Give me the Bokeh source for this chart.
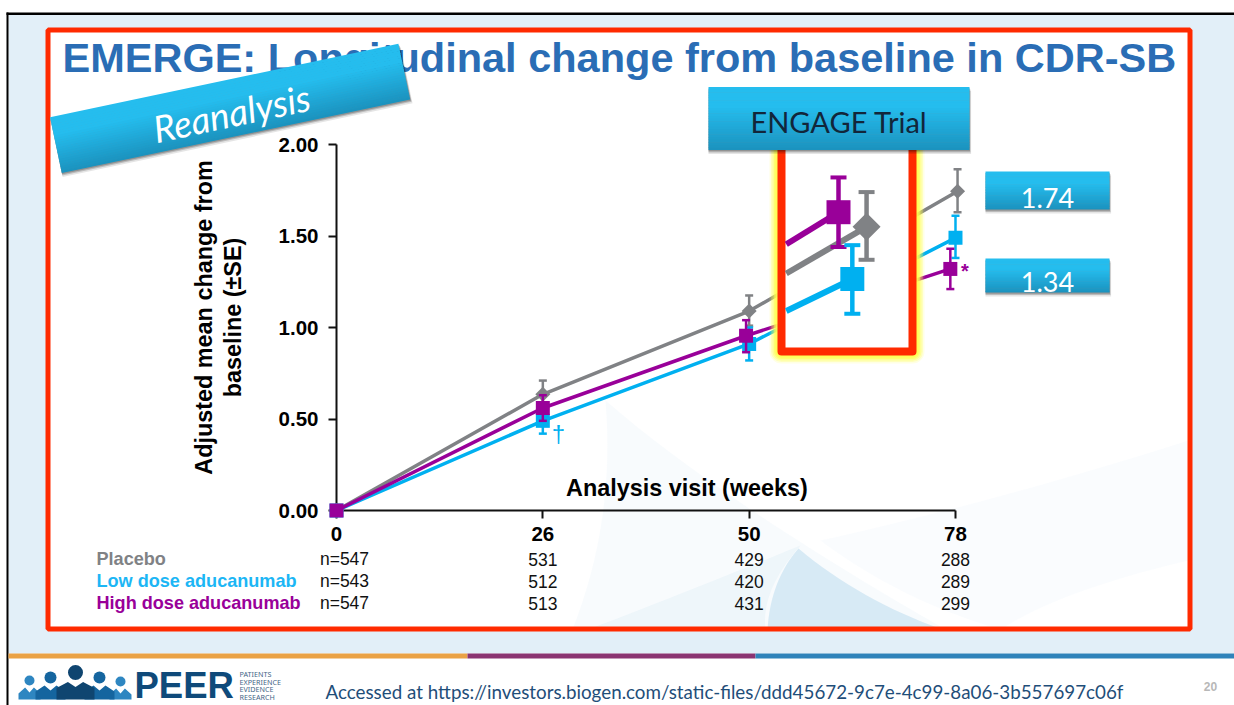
import math
from bokeh.plotting import figure
from bokeh.models import Range1d, LinearAxis, FixedTicker, NumeralTickFormatter, ColumnDataSource
from bokeh.core.properties import value
from bokeh.embed import file_html
from bokeh.resources import INLINE

# ---- data ----
week_labels = ["0", "26", "50", "78"]
visits = [0, 1, 2, 3]
y_ticks = [0, 0.5, 1.0, 1.5, 2.0]

placebo_x = [0, 1.0, 2.0, 3.01]
placebo_mean = [0, 0.635, 1.09, 1.745]
placebo_hi = [0, 0.71, 1.175, 1.865]
placebo_lo = [0, 0.56, 1.01, 1.63]

low_x = [0, 1.0, 2.0, 3.0]
low_mean = [0, 0.49, 0.91, 1.49]
low_hi = [0, 0.56, 1.0, 1.61]
low_lo = [0, 0.42, 0.82, 1.38]

high_x = [0, 1.0, 1.985, 2.975]
high_mean = [0, 0.56, 0.955, 1.32]
high_hi = [0, 0.63, 1.04, 1.43]
high_lo = [0, 0.49, 0.865, 1.21]

# ENGAGE inset (same y scale): segment start inside the box, then the point
eng_high_x = [2.18, 2.433]; eng_high_y = [1.455, 1.63]; eng_high_hi = [1.82]; eng_high_lo = [1.44]
eng_pla_x = [2.18, 2.569]; eng_pla_y = [1.295, 1.55]; eng_pla_hi = [1.74]; eng_pla_lo = [1.37]
eng_low_x = [2.18, 2.50]; eng_low_y = [1.09, 1.265]; eng_low_hi = [1.45]; eng_low_lo = [1.075]

n_placebo = ["n=547", "531", "429", "288"]
n_low = ["n=543", "512", "420", "289"]
n_high = ["n=547", "513", "431", "299"]

GRAY, BLUE, PURPLE = "#808285", "#00b0f0", "#990099"
RED = "#ff2a00"
SANS = "Liberation Sans"
HUM = "Lato"

# ---- figure: frame fills the page; axes sit inside it ----
W, H = 1234, 705
X0, XS, Y0, YS = 336.0, 206.33, 510.0, 183.0
p = figure(width=W, height=H, output_backend="svg", toolbar_location=None,
           x_range=Range1d((0 - X0) / XS, (W - X0) / XS),
           y_range=Range1d((Y0 - H) / YS, Y0 / YS),
           x_axis_location=None, y_axis_location=None,
           min_border=0, min_border_left=0, min_border_right=0, min_border_top=0, min_border_bottom=0,
           outline_line_color=None, background_fill_color="white", border_fill_color="white",
           margin=(0, 0, 0, 0))
p.grid.visible = False
p.extra_x_ranges["px"] = Range1d(0, W)
p.extra_y_ranges["px"] = Range1d(H, 0)
PX = dict(x_range_name="px", y_range_name="px")


def rect(x0, y0, x1, y1, level="image", **kw):
    p.quad(left=[x0], right=[x1], top=[y0], bottom=[y1], level=level, line_color=kw.pop("line_color", None), **kw, **PX)


def poly(xs, ys, level="image", **kw):
    p.patch(xs, ys, level=level, line_color=None, **kw, **PX)


def bez(a, c, b, n=16):
    """points of a quadratic curve a-c-b, used for the decorative background only"""
    xs, ys = [], []
    for i in range(n + 1):
        t = i / n
        xs.append((1 - t) ** 2 * a[0] + 2 * t * (1 - t) * c[0] + t * t * b[0])
        ys.append((1 - t) ** 2 * a[1] + 2 * t * (1 - t) * c[1] + t * t * b[1])
    return xs, ys


def swoosh(curves, **kw):
    xs, ys = [], []
    for a, c, b in curves:
        u, v = bez(a, c, b)
        xs += u
        ys += v
    poly(xs, ys, **kw)


def txt(x, y, s, size, color, font=SANS, style="normal", align="left", angle=0, level="image", baseline="middle"):
    p.text([x], [y], text=[s], text_font=value(font), text_font_size=f"{size}px", text_font_style=style,
           text_color=color, text_align=align, text_baseline=baseline, angle=angle, angle_units="deg",
           level=level, **PX)


def lerp(a, b, t):
    return a + (b - a) * t


def gradient_box(cx, cy, w, h, deg=0.0, level="overlay", top=(37, 189, 238), bot=(27, 145, 189), steps=24):
    a = math.radians(deg)
    ca, sa = math.cos(a), math.sin(a)

    def pt(u, v):
        return cx + u * ca - v * sa, cy + u * sa + v * ca
    # soft shadow
    for off, al in ((4, 0.10), (2.5, 0.18), (1.2, 0.22)):
        c = [pt(-w / 2, -h / 2 + off), pt(w / 2 + off * .4, -h / 2 + off), pt(w / 2 + off * .4, h / 2 + off), pt(-w / 2, h / 2 + off)]
        poly([q[0] for q in c], [q[1] for q in c], level=level, fill_color="#000000", fill_alpha=al)
    for i in range(steps):
        t0, t1 = i / steps, (i + 1) / steps
        # flat top third, then shade downward
        tt = max(0.0, (t0 - 0.3) / 0.7)
        col = "#%02x%02x%02x" % tuple(int(lerp(top[k], bot[k], tt)) for k in range(3))
        v0, v1 = -h / 2 + h * t0, -h / 2 + h * t1 + 0.6 * (i < steps - 1)
        c = [pt(-w / 2, v0), pt(w / 2, v0), pt(w / 2, v1), pt(-w / 2, v1)]
        poly([q[0] for q in c], [q[1] for q in c], level=level, fill_color=col)


# ---- page background ----
rect(8, 14, W, 653, fill_color="#e2eff8")
rect(6, 12, W, 14.5, fill_color="#000000")
rect(6, 12, 8, H, fill_color="#000000")
rect(8, 653, 467, 658, fill_color="#eaa245")
rect(467, 653, 755, 658, fill_color="#8b3472")
rect(755, 653, W, 658, fill_color="#2f83ba")

# chart panel
rect(47, 29, 1189, 629, fill_color="white")
# faint background swooshes
swoosh([((572, 629), (615, 520), (605, 400)), ((605, 400), (720, 500), (945, 629))], fill_color="#cfe6f4", fill_alpha=0.15)
swoosh([((767, 629), (770, 580), (798, 548)), ((798, 548), (860, 600), (942, 629))], fill_color="#8cc4e4", fill_alpha=0.3)
swoosh([((588, 629), (690, 590), (800, 545)), ((800, 545), (760, 590), (765, 629))], fill_color="#cfe6f4", fill_alpha=0.25)
swoosh([((820, 540), (1000, 500), (1188, 440)), ((1188, 440), (1188, 500), (1188, 560)), ((1188, 560), (1060, 590), (1000, 629)), ((1000, 629), (900, 600), (820, 540))], fill_color="#dcecf7", fill_alpha=0.14)
rect(47.5, 29.5, 1189.5, 628.5, fill_alpha=0, line_color=RED, line_width=5)

txt(62, 56.5, "EMERGE: Longitudinal change from baseline in CDR-SB", 41.5, "#2a6db5", style="bold")

# ---- axes ----
yaxis = LinearAxis(ticker=FixedTicker(ticks=y_ticks), formatter=NumeralTickFormatter(format="0.00"),
                   fixed_location=0, bounds=(0, 2))
xaxis = LinearAxis(ticker=FixedTicker(ticks=visits), fixed_location=0, bounds=(0, 3),
                   major_label_overrides={v: s for v, s in zip(visits, week_labels)})
for ax in (xaxis, yaxis):
    ax.level = "underlay"
    ax.axis_line_color = "#111111"
    ax.axis_line_width = 2
    ax.major_tick_line_color = "#111111"
    ax.major_tick_line_width = 2
    ax.major_tick_in = 0
    ax.major_tick_out = 8
    ax.minor_tick_line_color = None
    ax.major_label_text_font = SANS
    ax.major_label_text_font_style = "bold"
    ax.major_label_text_font_size = "20.5px"
    ax.major_label_text_color = "black"
xaxis.major_label_standoff = 8
yaxis.major_label_standoff = 10
p.add_layout(yaxis, "left")
p.add_layout(xaxis, "below")

txt(203, 317, "Adjusted mean change from", 23.4, "black", style="bold", align="center", angle=90)
txt(232, 317, "baseline (±SE)", 23.4, "black", style="bold", align="center", angle=90)
txt(686.5, 487, "Analysis visit (weeks)", 23.4, "black", style="bold", align="center")


# ---- series ----
def marks(x, y, lo, hi, color, marker, msize, stem, cap, capw, level):
    p.segment(x, lo, x, hi, line_color=color, line_width=stem, level=level)
    p.scatter(x, lo, marker="dash", size=capw, line_color=color, line_width=cap, level=level)
    p.scatter(x, hi, marker="dash", size=capw, line_color=color, line_width=cap, level=level)
    if marker == "diamond":
        p.scatter(x, y, marker="square", angle=math.pi / 4, size=msize / 1.414, fill_color=color, line_color=color,
                  line_width=0, level=level)
    else:
        p.scatter(x, y, marker="square", size=msize, fill_color=color, line_color=color, line_width=0, level=level)


p.line(placebo_x, placebo_mean, line_color=GRAY, line_width=3.5, level="glyph")
marks(placebo_x, placebo_mean, placebo_lo, placebo_hi, GRAY, "diamond", 15, 2.5, 2.5, 8, "glyph")
p.line(low_x, low_mean, line_color=BLUE, line_width=3.5, level="glyph")
marks(low_x, low_mean, low_lo, low_hi, BLUE, "square", 14, 2.5, 2.5, 8, "glyph")
p.line(high_x, high_mean, line_color=PURPLE, line_width=3.5, level="glyph")
marks(high_x, high_mean, high_lo, high_hi, PURPLE, "square", 14, 2.5, 2.5, 8, "glyph")
p.text([1.075], [0.42], text=["†"], text_font=value(SANS), text_font_size="24px", text_color=BLUE,
       text_align="center", text_baseline="middle", level="glyph")
p.text([3.045], [1.31], text=["*"], text_font=value(SANS), text_font_size="20px", text_font_style="bold",
       text_color=PURPLE, text_align="center", text_baseline="middle", level="glyph")

# ---- n table ----
for s, ypx, col, names in (("Placebo", 558.5, GRAY, n_placebo),
                           ("Low dose aducanumab", 580.5, "#1cb6f5", n_low),
                           ("High dose aducanumab", 602.5, PURPLE, n_high)):
    txt(96, ypx, s, 18.1, col, style="bold")
    src = ColumnDataSource(dict(x=visits, y=[(Y0 - ypx) / YS] * 4, t=names, dx=[8, 0, 0, 0]))
    p.text("x", "y", text="t", x_offset="dx", source=src, text_font=value(SANS), text_font_size="17.5px",
           text_color="#111111", text_align="center", text_baseline="middle", level="image")

# ---- ENGAGE box over the plot ----
for grow, al in ((16, 0.15), (13, 0.25), (10, 0.35), (7, 0.5), (4, 0.7)):
    p.multi_line([[781, 781, 912, 912]], [[148, 351, 351, 148]], line_color="#ffff4d", line_alpha=al,
                 line_width=8 + grow, level="annotation", line_join="round", **PX)
rect(781, 148, 912, 351, level="annotation", fill_color="white")
p.multi_line([[781, 781, 912, 912]], [[148, 351, 351, 148]], line_color=RED, line_width=8,
             level="annotation", line_join="round", **PX)
# inset series
p.line(eng_pla_x, eng_pla_y, line_color=GRAY, line_width=6, level="annotation")
marks(eng_pla_x[1:], eng_pla_y[1:], eng_pla_lo, eng_pla_hi, GRAY, "diamond", 28, 4.5, 4, 16, "annotation")
p.line(eng_high_x, eng_high_y, line_color=PURPLE, line_width=6, level="annotation")
marks(eng_high_x[1:], eng_high_y[1:], eng_high_lo, eng_high_hi, PURPLE, "square", 24, 4.5, 4, 16, "annotation")
p.line(eng_low_x, eng_low_y, line_color=BLUE, line_width=6, level="annotation")
marks(eng_low_x[1:], eng_low_y[1:], eng_low_lo, eng_low_hi, BLUE, "square", 24, 4.5, 4, 16, "annotation")

# ---- banners ----
gradient_box(838.5, 118, 261, 63)
txt(838.5, 121, "ENGAGE Trial", 29, "#12263a", font=HUM, align="center", level="overlay")
gradient_box(1047, 190, 124, 38)
txt(1047, 197, "1.74", 27, "white", font=HUM, align="center", level="overlay")
gradient_box(1047, 275, 124, 34)
txt(1047, 281, "1.34", 27, "white", font=HUM, align="center", level="overlay")
gradient_box(229.6, 107.9, 356, 57, deg=-11.9)
txt(231, 112, "Reanalysis", 37, "white", font=HUM, style="italic", align="center", angle=11.9, level="overlay")

# ---- footer ----
for cx, cy, r, col, sw in ((29, 680, 5, "#2e86c1", 11), (120, 681, 5, "#2e86c1", 11),
                           (50, 677, 6, "#15659f", 15), (99, 677, 6, "#15659f", 15),
                           (75, 672, 7.5, "#0f4570", 19)):
    top = cy + r + 2
    poly([cx - sw, cx - sw, cx - sw * .4, cx, cx + sw * .4, cx + sw, cx + sw],
         [699, top + 6, top, top + 5, top, top + 6, 699], level="glyph", fill_color=col)
    p.circle([cx], [cy], radius=r, radius_units="screen", fill_color=col, line_color=None, level="glyph", **PX)
txt(134, 685, "PEER", 36.5, "#0f4a7a", style="bold", level="glyph")
for i, s in enumerate(("PATIENTS", "EXPERIENCE", "EVIDENCE", "RESEARCH")):
    txt(239, 673.5 + 7.7 * i, s, 7.2, "#3f6586", font="Noto Sans", level="glyph")
txt(325, 691, "Accessed at https://investors.biogen.com/static-files/ddd45672-9c7e-4c99-8a06-3b557697c06f",
    18.8, "#1f4e79", font=HUM, level="glyph")
txt(1210, 686, "20", 12, "#b8b8b8", style="bold", align="center", level="glyph")

open("out.html", "w").write(file_html(p, INLINE))
